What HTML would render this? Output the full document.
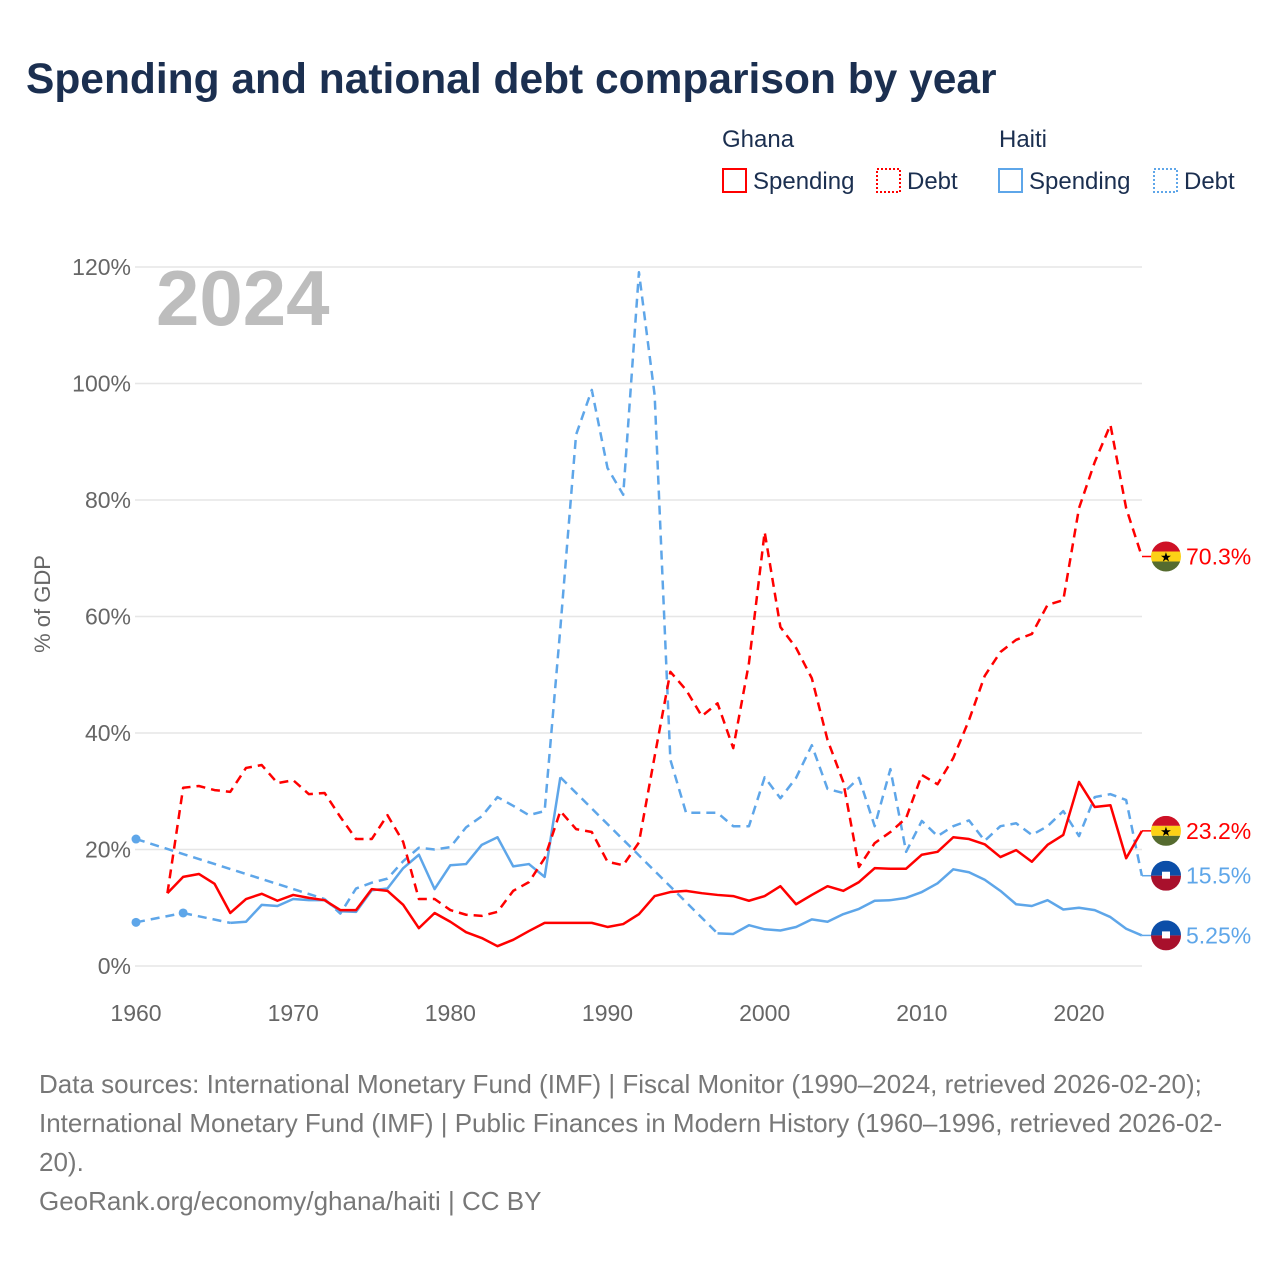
<!DOCTYPE html>
<html><head><meta charset="utf-8"><style>
body{margin:0;background:#fff;width:1280px;height:1280px;overflow:hidden;font-family:"Liberation Sans",sans-serif}
</style></head><body>
<svg id="chart" width="1280" height="1280" xmlns="http://www.w3.org/2000/svg" style="position:absolute;left:0;top:0">
<text x="26" y="93" font-size="42.5" font-weight="bold" fill="#1b2f50">Spending and national debt comparison by year</text>
<g font-size="24" fill="#1b2f50">
<text x="722" y="147">Ghana</text>
<text x="999" y="147">Haiti</text>
<g><rect x="723" y="169" width="23" height="23" fill="none" stroke="#f00" stroke-width="2"/><text x="753" y="189">Spending</text></g>
<g><rect x="877" y="169" width="23" height="23" fill="none" stroke="#f00" stroke-width="2" stroke-dasharray="2,2"/><text x="907" y="189">Debt</text></g>
<g><rect x="999" y="169" width="23" height="23" fill="none" stroke="#5ea6e9" stroke-width="2"/><text x="1029" y="189">Spending</text></g>
<g><rect x="1154" y="169" width="23" height="23" fill="none" stroke="#5ea6e9" stroke-width="2" stroke-dasharray="2,2"/><text x="1184" y="189">Debt</text></g>
</g>
<text x="156" y="325" font-size="78" font-weight="bold" fill="#bdbdbd">2024</text>
<text transform="translate(50,604) rotate(-90)" text-anchor="middle" font-size="22" fill="#666">% of GDP</text>
<g id="grid"></g><g id="series"></g><g id="endlabels"></g>
<g font-size="26" fill="#777">
<text x="39" y="1093">Data sources: International Monetary Fund (IMF) | Fiscal Monitor (1990–2024, retrieved 2026-02-20);</text>
<text x="39" y="1132">International Monetary Fund (IMF) | Public Finances in Modern History (1960–1996, retrieved 2026-02-</text>
<text x="39" y="1171">20).</text>
<text x="39" y="1210">GeoRank.org/economy/ghana/haiti | CC BY</text>
</g>
</svg>
<script>
const years = [];for(let y=1960;y<=2024;y++)years.push(y);
const yTicks = [0,20,40,60,80,100,120];
const xTicks = [1960,1970,1980,1990,2000,2010,2020];
const N=null;
const ghanaSpending = [N,N,12.5,15.3,15.8,14.1,9.1,11.5,12.4,11.2,12.2,11.7,11.3,9.6,9.6,13.2,12.9,10.5,6.5,9.1,7.6,5.8,4.8,3.4,4.5,6.0,7.4,7.4,7.4,7.4,6.7,7.2,8.9,12.0,12.7,12.9,12.5,12.2,12.0,11.2,12.0,13.7,10.6,12.2,13.7,12.9,14.4,16.8,16.7,16.7,19.1,19.6,22.1,21.8,20.9,18.7,19.9,17.9,20.8,22.5,31.6,27.3,27.6,18.5,23.2];
const ghanaDebt = [N,N,12.5,30.6,30.9,30.2,29.9,34.0,34.5,31.4,31.9,29.5,29.7,25.6,21.8,21.8,25.9,21.3,11.5,11.5,9.6,8.8,8.6,9.3,12.9,14.4,18.5,26.6,23.5,23.0,17.9,17.3,21.2,36.0,50.5,47.4,42.9,45.1,37.4,52.0,74.5,58.2,54.6,49.4,38.8,31.6,17.0,21.1,23.0,25.4,32.8,31.2,35.7,42.2,49.8,53.9,56.0,57.0,62.0,62.8,78.6,86.5,92.9,78.6,70.3];
const haitiSpending = [7.5,N,N,9.1,N,N,7.4,7.6,10.5,10.3,11.5,11.3,11.3,9.4,9.3,13.0,13.3,16.8,19.1,13.2,17.3,17.5,20.8,22.1,17.1,17.5,15.3,32.4,N,N,N,N,N,N,N,N,N,5.6,5.5,7.0,6.3,6.1,6.7,8.0,7.6,8.9,9.8,11.2,11.3,11.7,12.7,14.2,16.6,16.1,14.8,12.9,10.6,10.3,11.3,9.7,10.0,9.6,8.4,6.4,5.25];
const haitiDebt = [21.8,N,N,N,N,N,N,N,N,N,N,N,11.5,9.0,13.3,14.3,15.0,18.0,20.3,20.0,20.4,23.8,25.7,29.0,27.5,25.9,26.6,58.0,91.2,98.9,85.5,80.9,119.1,98.0,35.4,26.3,26.3,26.3,24.0,24.0,32.4,28.8,32.3,37.9,30.4,29.7,32.3,24.0,33.8,19.6,24.9,22.3,24.0,25.0,21.5,24.0,24.5,22.5,24.0,26.6,22.3,29.0,29.5,28.5,15.5];
const RED="#ff0000",BLUE="#5ea6e9",NS="http://www.w3.org/2000/svg";
const xS=y=>136+(y-1960)*(943/60);
const yS=v=>966-v*(699/120);
function mk(tag,attrs,parent){const e=document.createElementNS(NS,tag);for(const k in attrs)e.setAttribute(k,attrs[k]);parent.appendChild(e);return e;}
const grid=document.getElementById('grid');
yTicks.forEach(t=>{
 const l=mk('line',{x1:135,x2:1142,y1:yS(t),y2:yS(t),stroke:'#e6e6e6','stroke-width':1.5},grid);
 
 
 const tx=mk('text',{x:131,y:yS(t)+8,'text-anchor':'end','font-size':23,fill:'#666'},grid);
 tx.textContent=t+'%';
 
 
});
xTicks.forEach(t=>{
 const tx=mk('text',{x:xS(t),y:1021,'text-anchor':'middle','font-size':23,fill:'#666'},grid);
 tx.textContent=t;
 
 
});
const sg=document.getElementById('series');
function draw(name,vals,color,dashed){
 const g=mk('g',{},sg);
 
 
 const pts=[];vals.forEach((v,i)=>{if(v!==null)pts.push([years[i],v,i]);});
 let seg=[];const segs=[];
 pts.forEach((p,k)=>{ if(k>0&&p[2]!==pts[k-1][2]+1){segs.push(seg);seg=[];
   const q=pts[k-1];
   const gl=mk('line',{x1:xS(q[0]),y1:yS(q[1]),x2:xS(p[0]),y2:yS(p[1]),stroke:color,'stroke-width':2.5,'stroke-dasharray':'9,6',fill:'none'},g);
   
   
  } seg.push(p);});
 segs.push(seg);
 segs.forEach(s=>{
  if(s.length===1){const c=mk('circle',{cx:xS(s[0][0]),cy:yS(s[0][1]),r:4.5,fill:color},g);
   
   }
  else{const p=mk('polyline',{points:s.map(q=>xS(q[0])+','+yS(q[1])).join(' '),fill:'none',stroke:color,'stroke-width':2.5,'stroke-linejoin':'round'},g);
   if(dashed)p.setAttribute('stroke-dasharray','9,6');
   
   }
 });
}
draw('haiti-debt-series',haitiDebt,BLUE,true);
draw('haiti-spending-series',haitiSpending,BLUE,false);
draw('ghana-debt-series',ghanaDebt,RED,true);
draw('ghana-spending-series',ghanaSpending,RED,false);
const el=document.getElementById('endlabels');
function flag(cx,cy,country){
 const g=mk('g',{},el);
 const id='clip'+Math.round(cy);
 const cp=mk('clipPath',{id:id},g);mk('circle',{cx:cx,cy:cy,r:15},cp);
 const f=mk('g',{'clip-path':'url(#'+id+')'},g);
 if(country==='ghana'){
  mk('rect',{x:cx-15,y:cy-15,width:30,height:10,fill:'#ce1126'},f);
  mk('rect',{x:cx-15,y:cy-5,width:30,height:10,fill:'#fcd116'},f);
  mk('rect',{x:cx-15,y:cy+5,width:30,height:10,fill:'#556b2f'},f);
  const s=mk('text',{x:cx,y:cy+5,'text-anchor':'middle','font-size':13,fill:'#000'},g);s.textContent='★';
 }else{
  mk('rect',{x:cx-15,y:cy-15,width:30,height:15,fill:'#0c4ea8'},f);
  mk('rect',{x:cx-15,y:cy,width:30,height:15,fill:'#a8102c'},f);
  mk('rect',{x:cx-4,y:cy-4,width:8,height:7,fill:'#fff'},f);
 }
 return g;
}
const ends=[['ghana-debt',ghanaDebt,RED,'ghana','70.3%'],['ghana-spending',ghanaSpending,RED,'ghana','23.2%'],['haiti-debt',haitiDebt,BLUE,'haiti','15.5%'],['haiti-spending',haitiSpending,BLUE,'haiti','5.25%']];
ends.forEach(e=>{
 const v=e[1][e[1].length-1];const cy=yS(v);
 mk('line',{x1:1142,x2:1152,y1:cy,y2:cy,stroke:e[2],'stroke-width':1.5},el);
 const fg=flag(1166,cy,e[3]);
 
 
 const t=mk('text',{x:1186,y:cy+8,'font-size':23,fill:e[2]},el);
 t.textContent=e[4];
 
 
});
</script>
</body></html>
